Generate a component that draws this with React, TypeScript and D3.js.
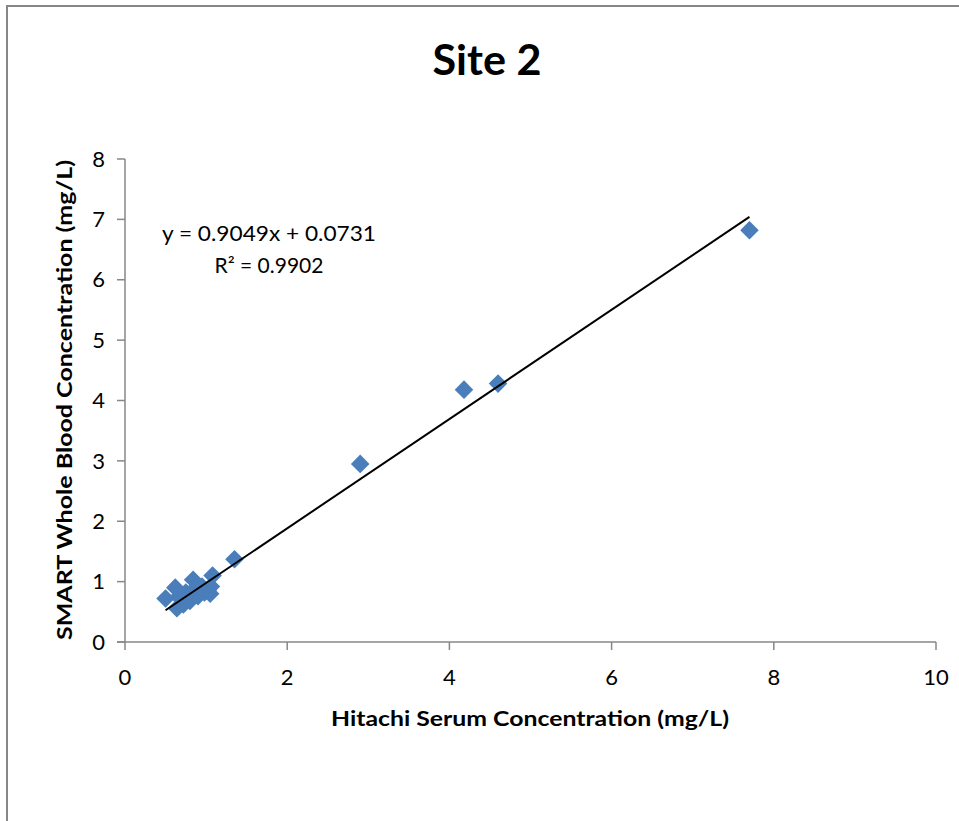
import React from "react";
import * as d3 from "d3";

// Paired measurements: Hitachi serum (x) vs SMART whole blood (y), mg/L
const hitachi = [
  0.5, 0.62, 0.64, 0.66, 0.72, 0.75, 0.8, 0.84, 0.86, 0.9, 0.95, 0.98, 1.02, 1.05, 1.06, 1.08,
  1.35, 2.9, 4.18, 4.6, 7.7,
];
const smart = [
  0.72, 0.9, 0.56, 0.75, 0.62, 0.82, 0.68, 1.03, 0.88, 0.76, 0.92, 0.82, 0.86, 0.8, 0.92, 1.1,
  1.37, 2.95, 4.18, 4.28, 6.82,
];
const xTicks = [0, 2, 4, 6, 8, 10];
const yTicks = [0, 1, 2, 3, 4, 5, 6, 7, 8];
const slope = 0.9049;
const intercept = 0.0731;
const equationLabel = "y = 0.9049x + 0.0731";
const rSquaredLabel = "R² = 0.9902";
const title = "Site 2";
const xTitle = "Hitachi Serum Concentration (mg/L)";
const yTitle = "SMART Whole Blood Concentration (mg/L)";

const W = 959;
const H = 821;
const FONT = "Lato, 'Open Sans', sans-serif";
const BLUE = "#4A7EBB";
const AXIS = "#878787";

export default function App() {
  const x = d3.scaleLinear().domain([0, 10]).range([125, 936]);
  const y = d3.scaleLinear().domain([0, 8]).range([642, 159]);

  const xMin = d3.min(hitachi) as number;
  const xMax = d3.max(hitachi) as number;
  const trend = d3
    .line<number>()
    .x((v) => x(v))
    .y((v) => y(slope * v + intercept));

  const diamond = d3.symbol().type(d3.symbolDiamond2).size(220)();

  return (
    <svg
      width={W}
      height={H}
      style={{ position: "absolute", left: 0, top: 0, background: "#fff" }}
      fontFamily={FONT}
    >
      {/* chart frame */}
      <rect x={7} y={6} width={W + 20} height={H + 20} fill="#fff" stroke={AXIS} strokeWidth={2} />

      <text x={487} y={75} textAnchor="middle" fontSize={42} fontWeight="bold" fill="#000" textLength={109} lengthAdjust="spacingAndGlyphs">
        {title}
      </text>

      {/* axes */}
      <line x1={x(0)} x2={x(0)} y1={y(8)} y2={y(0)} stroke={AXIS} strokeWidth={1.5} />
      <line x1={x(0) - 8} x2={x(10)} y1={y(0)} y2={y(0)} stroke={AXIS} strokeWidth={1.5} />
      {yTicks.map((t) => (
        <g key={"y" + t}>
          <line x1={x(0) - 8} x2={x(0)} y1={y(t)} y2={y(t)} stroke={AXIS} strokeWidth={1.5} />
          <text x={105} y={y(t)} dy="0.35em" textAnchor="end" fontSize={22} fill="#000">
            {t}
          </text>
        </g>
      ))}
      {xTicks.map((t) => (
        <g key={"x" + t}>
          <line x1={x(t)} x2={x(t)} y1={y(0)} y2={y(0) + 8} stroke={AXIS} strokeWidth={1.5} />
          <text x={x(t)} y={685} textAnchor="middle" fontSize={22} fill="#000">
            {t}
          </text>
        </g>
      ))}

      {/* axis titles */}
      <text
        x={530}
        y={726}
        textAnchor="middle"
        fontSize={21}
        fontWeight="bold"
        fill="#000"
        textLength={398}
        lengthAdjust="spacingAndGlyphs"
      >
        {xTitle}
      </text>
      <text
        transform="translate(72,400) rotate(-90)"
        textAnchor="middle"
        fontSize={21}
        fontWeight="bold"
        fill="#000"
        textLength={480}
        lengthAdjust="spacingAndGlyphs"
      >
        {yTitle}
      </text>

      {/* data points */}
      {hitachi.map((h, i) => (
        <path key={i} d={diamond as string} transform={`translate(${x(h)},${y(smart[i])})`} fill={BLUE} />
      ))}

      {/* linear trendline */}
      <path d={trend([xMin, xMax]) as string} fill="none" stroke="#000" strokeWidth={2} />

      <text x={269} y={241} textAnchor="middle" fontSize={21} fill="#000" textLength={214} lengthAdjust="spacingAndGlyphs">
        {equationLabel}
      </text>
      <text x={269} y={273} textAnchor="middle" fontSize={21} fill="#000">
        {rSquaredLabel}
      </text>
    </svg>
  );
}
